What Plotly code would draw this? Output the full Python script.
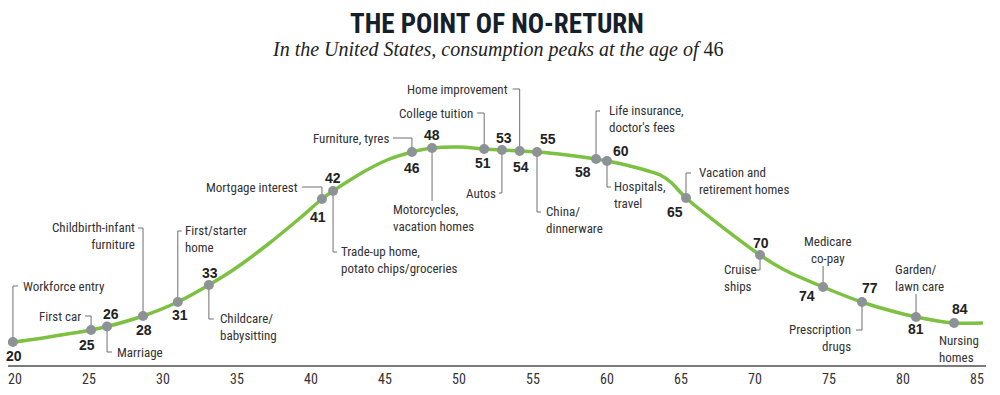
import plotly.graph_objects as go

# ---------------- data ----------------
# smooth consumption curve (age, relative consumption index; y axis hidden)
curve_age = [19.5, 19.86, 25.14, 26.22, 28.65, 31.0, 33.1, 34.73, 37.03, 39.26, 40.74, 41.49,
             42.64, 43.78, 45.14, 46.82, 48.18, 50.07, 51.7, 52.9, 54.1, 55.3, 57.3, 59.26,
             60.0, 61.55, 62.8, 63.6, 64.3, 65.34, 70.34, 72.0, 74.6, 77.2,
             79.0, 80.9, 83.4, 85.4]
curve_index = [23, 23, 35, 38.5, 49, 63, 80, 95, 120, 147, 166, 174,
               185, 195, 205, 213, 217, 218, 216, 215, 214, 213, 210, 206,
               204, 199, 194, 190, 183, 167, 110, 95, 78, 63,
               55, 48, 42, 42]

# milestone markers: position on the curve and the labelled age
marker_age = [19.86, 25.14, 26.22, 28.65, 31.0, 33.1, 40.74, 41.49, 46.82, 48.18, 51.7,
              52.9, 54.1, 55.27, 59.26, 60.0, 65.34, 70.34, 74.6, 77.23, 80.88, 83.45]
marker_index = [23, 35, 38.5, 49, 63, 80, 166, 174, 213, 217, 216,
                215, 214, 213, 206, 204, 167, 110, 78, 63, 48, 42]
marker_label = [20, 25, 26, 28, 31, 33, 41, 42, 46, 48, 51,
                53, 54, 55, 58, 60, 65, 70, 74, 77, 81, 84]

milestones = ["Workforce entry", "First car", "Marriage", "Childbirth-infant<br>furniture",
              "First/starter<br>home", "Childcare/<br>babysitting", "Mortgage interest",
              "Trade-up home,<br>potato chips/groceries", "Furniture, tyres",
              "Motorcycles,<br>vacation homes", "College tuition", "Home improvement", "Autos",
              "China/<br>dinnerware", "Life insurance,<br>doctor's fees", "Hospitals,<br>travel",
              "Vacation and<br>retirement homes", "Cruise<br>ships", "Medicare<br>co-pay",
              "Prescription<br>drugs", "Garden/<br>lawn care", "Nursing<br>homes"]

tick_vals = [20, 25, 30, 35, 40, 45, 50, 55, 60, 65, 70, 75, 80, 85]

title_text = "THE POINT OF NO-RETURN"
subtitle_text = "<i>In the United States, consumption peaks at the age of</i> 46"

# ---------------- layout helpers (pixel placement of labels) ----------------
PX_PER_YEAR = 14.8
def px2x(px):
    return 20 + (px - 15) / PX_PER_YEAR
def py2y(py):
    return 365 - py

NARROW = "Liberation Sans Narrow, Roboto Condensed, DejaVu Sans Condensed, Arial Narrow, sans-serif"
BOLD = "Liberation Sans, Arial, sans-serif"

# number label positions (px) in marker order
number_pos = [(14, 356), (87, 345), (111, 314), (144, 330), (180, 315), (210, 273),
              (318, 217), (333, 178), (412, 168), (432, 135), (483, 163), (504, 138),
              (521, 167), (548, 139), (583, 172), (621, 151), (675, 212), (761, 243),
              (807, 296), (870, 288), (916, 329), (960, 309)]

# milestone text placement: (px, py, anchor) in milestones order
text_pos = [(21, 286, "left"), (83, 316, "right"), (115, 352, "left"), (137, 236, "right"),
            (183, 238.5, "left"), (218, 327, "left"), (300, 187, "right"),
            (339, 259.5, "left"), (391, 138, "right"), (391, 218, "left"),
            (475, 113, "right"), (510, 89, "right"), (498, 193, "right"),
            (544, 219.5, "left"), (607, 119, "left"), (612, 194.5, "left"),
            (697, 180.5, "left"), (722, 278, "left"), (828, 249.5, "center"),
            (853, 338, "right"), (893, 277.5, "left"), (937, 349, "left")]

# leader lines: marker label -> (end py, horizontal tick length px)
leaders = {20: (286, 5), 25: (316, -6), 26: (352, 5), 28: (228, -5), 31: (231, 4),
           33: (319, 5), 41: (187, -20), 42: (252, 4), 46: (138, -19), 48: (201, 0),
           51: (113, -7), 54: (89, -7), 53: (193, -3), 55: (212, 4), 58: (111, 4),
           60: (187, 4), 65: (173, 5), 70: (270, -9), 74: (266, 0), 77: (330, -6),
           81: (294, 0)}

fig = go.Figure()
fig.add_trace(go.Scatter(x=curve_age, y=curve_index, mode="lines",
                         line=dict(color="#7cc142", width=3.5, shape="spline", smoothing=0.8),
                         hoverinfo="skip", showlegend=False))
fig.add_trace(go.Scatter(x=marker_age, y=marker_index, mode="markers",
                         marker=dict(color="#8d9297", size=10),
                         text=marker_label, hoverinfo="text", showlegend=False))

shapes = []
for i, lab in enumerate(marker_label):
    if lab not in leaders:
        continue
    end_py, dx = leaders[lab]
    x0, y0 = marker_age[i], marker_index[i]
    y1 = py2y(end_py)
    path = f"M {x0},{y0} L {x0},{y1}"
    if dx:
        path += f" L {x0 + dx / PX_PER_YEAR},{y1}"
    shapes.append(dict(type="path", path=path, xref="x", yref="y", layer="below",
                       line=dict(color="#6f6f6f", width=1)))

annotations = []
for lab, (px, py) in zip(marker_label, number_pos):
    annotations.append(dict(x=px2x(px), y=py2y(py), xref="x", yref="y", text=f"<b>{lab}</b>",
                            showarrow=False, xanchor="center", yanchor="middle",
                            font=dict(family=BOLD, size=14, color="#222222")))
for txt, (px, py, anc) in zip(milestones, text_pos):
    annotations.append(dict(x=px2x(px), y=py2y(py), xref="x", yref="y", text=txt,
                            showarrow=False, xanchor=anc, yanchor="middle", align=anc,
                            font=dict(family=NARROW, size=13, color="#333333")))

PLOT_T, PLOT_H = 75, 290
def top_px(py):
    return 1 + (PLOT_T - py) / PLOT_H

annotations.append(dict(x=0.5, y=top_px(24), xref="paper", yref="paper", text=f"<b>{title_text}</b>",
                        showarrow=False, xanchor="center", yanchor="middle",
                        font=dict(family=NARROW, size=27, color="#15202b")))
annotations.append(dict(x=0.5, y=top_px(49), xref="paper", yref="paper", text=subtitle_text,
                        showarrow=False, xanchor="center", yanchor="middle",
                        font=dict(family="Liberation Serif, serif", size=20, color="#222222")))

fig.update_layout(
    width=1000, height=395,
    margin=dict(l=8, r=14, t=PLOT_T, b=30),
    paper_bgcolor="white", plot_bgcolor="white",
    shapes=shapes, annotations=annotations,
    xaxis=dict(range=[px2x(8), px2x(986)], tickvals=tick_vals, showgrid=False, zeroline=False,
               showline=True, linecolor="#7a7a7a", linewidth=2, ticks="", automargin=False,
               tickfont=dict(family=NARROW, size=14, color="#333333"), fixedrange=True),
    yaxis=dict(range=[0, 290], visible=False, fixedrange=True, automargin=False),
)

fig.write_html("out.html", config={"displayModeBar": False},
               post_script="document.body.style.margin='0';")
